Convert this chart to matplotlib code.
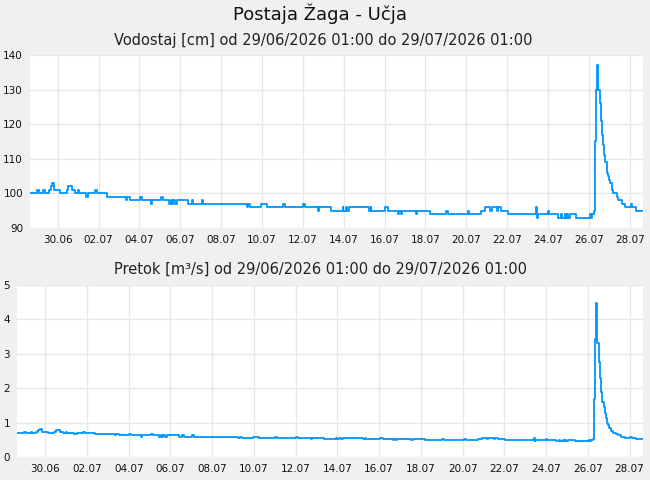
import datetime as dt
import matplotlib
matplotlib.use("Agg")
import matplotlib.pyplot as plt

# ---- data ----
start = dt.datetime(2026, 6, 29, 1, 0)
end = dt.datetime(2026, 7, 29, 1, 0)

# change points (hours after start)
hours = [0, 7.9, 10.9, 15.6, 17.6, 22.3, 24.3, 26.2, 28.5, 35.2,
         43.1, 45.0, 49.0, 52.9, 56.7, 57.9, 65.8, 68.5, 76.3, 78.3,
         90.1, 112.8, 114.3, 117.5, 129.2, 131.2, 142.1, 143.3, 153.9, 155.9,
         163.3, 165.3, 166.4, 168.3, 170.3, 172.3, 185.9, 189.9, 191.8, 201.7,
         203.5, 254.5, 256.4, 258.4, 271.3, 278.0, 296.8, 299.5, 321.0, 323.0,
         338.6, 339.8, 353.2, 367.3, 368.0, 370.8, 372.7, 374.7, 398.5, 400.2,
         400.9, 417.0, 420.9, 431.9, 433.4, 435.4, 436.9, 453.4, 454.9, 469.8,
         488.6, 491.3, 514.1, 516.0, 529.7, 534.4, 540.3, 542.3, 548.2, 550.1,
         553.2, 561.8, 594.7, 595.5, 596.3, 608.8, 610.0, 620.5, 623.7, 624.9,
         628.4, 629.6, 630.8, 631.9, 634.3, 641.3, 657.8, 659.0, 660.1, 662.8,
         663.6, 664.8, 666.0, 666.8, 667.5, 669.5, 671.1, 672.2, 673.4, 674.6,
         675.8, 677.4, 678.6, 680.1, 681.3, 683.3, 685.1, 689.1, 691.0, 695.0,
         698.9, 705.6, 707.1, 711.8, 720.0]

vodostaj = [100, 101, 100, 101, 100, 101, 102, 103, 101, 100,
            101, 102, 101, 100, 101, 100, 99, 100, 101, 100,
            99, 98, 99, 98, 99, 98, 97, 98, 99, 98,
            97, 98, 97, 98, 97, 98, 97, 98, 97, 98,
            97, 96, 97, 96, 97, 96, 97, 96, 97, 96,
            95, 96, 95, 96, 95, 96, 95, 96, 95, 96,
            95, 96, 95, 94, 95, 94, 95, 94, 95, 94,
            95, 94, 95, 94, 95, 96, 95, 96, 95, 96,
            95, 94, 96, 93, 94, 95, 94, 93, 94, 93,
            94, 93, 94, 93, 94, 93, 94, 93, 94, 95,
            115, 130, 137, 135, 130, 126, 121, 117, 114, 111,
            109, 106, 105, 104, 103, 101, 100, 99, 98, 97,
            96, 97, 96, 95, 95]

pretok = [0.70, 0.74, 0.70, 0.74, 0.70, 0.74, 0.78, 0.82, 0.74, 0.70,
          0.74, 0.78, 0.74, 0.70, 0.74, 0.70, 0.67, 0.70, 0.74, 0.70,
          0.67, 0.63, 0.67, 0.63, 0.67, 0.63, 0.59, 0.63, 0.67, 0.63,
          0.59, 0.63, 0.59, 0.63, 0.59, 0.63, 0.59, 0.63, 0.59, 0.63,
          0.59, 0.55, 0.59, 0.55, 0.59, 0.55, 0.59, 0.55, 0.59, 0.55,
          0.52, 0.55, 0.52, 0.55, 0.52, 0.55, 0.52, 0.55, 0.52, 0.55,
          0.52, 0.55, 0.52, 0.50, 0.52, 0.50, 0.52, 0.50, 0.52, 0.50,
          0.52, 0.50, 0.52, 0.50, 0.52, 0.55, 0.52, 0.55, 0.52, 0.55,
          0.52, 0.50, 0.55, 0.47, 0.50, 0.52, 0.50, 0.47, 0.50, 0.47,
          0.50, 0.47, 0.50, 0.47, 0.50, 0.47, 0.50, 0.47, 0.50, 0.52,
          1.68, 3.43, 4.49, 4.00, 3.30, 2.75, 2.30, 1.90, 1.60, 1.44,
          1.29, 1.12, 1.00, 0.92, 0.85, 0.77, 0.71, 0.66, 0.63, 0.59,
          0.56, 0.58, 0.55, 0.52, 0.52]

tick_dates = ["30.06", "02.07", "04.07", "06.07", "08.07", "10.07", "12.07",
              "14.07", "16.07", "18.07", "20.07", "22.07", "24.07", "26.07", "28.07"]

title = "Postaja Žaga - Učja"
sub1 = "Vodostaj [cm] od 29/06/2026 01:00 do 29/07/2026 01:00"
sub2 = "Pretok [m³/s] od 29/06/2026 01:00 do 29/07/2026 01:00"

# ---- plotting ----
plt.rcParams['font.family'] = ['DejaVu Sans']
BG = '#f0f0f0'
LINE = '#0095ff'
GRID = '#e8e8e8'

fig = plt.figure(figsize=(6.5, 4.8), dpi=100, facecolor=BG)
times = [start + dt.timedelta(hours=h) for h in hours]
tick_pos = [dt.datetime(2026, int(t[3:]), int(t[:2]), 9, 30) for t in tick_dates]

def style(ax, ylim, yticks):
    ax.set_facecolor('white')
    for s in ax.spines.values():
        s.set_visible(False)
    ax.set_xlim(start, end)
    ax.set_ylim(*ylim)
    ax.set_yticks(yticks)
    ax.set_xticks(tick_pos)
    ax.set_xticklabels(tick_dates)
    ax.grid(True, color=GRID, linewidth=1.0)
    ax.set_axisbelow(True)
    ax.tick_params(length=0, labelsize=7.5, colors='#111111', pad=5)

ax1 = fig.add_axes([30/650, 1-228/480, 613/650, 173/480])
ax1.step(times, vodostaj, where='post', color=LINE, lw=1.3)
style(ax1, (90, 140), [90, 100, 110, 120, 130, 140])

ax2 = fig.add_axes([17/650, 1-457/480, 626/650, 172/480])
ax2.step(times, pretok, where='post', color=LINE, lw=1.3)
style(ax2, (0, 5), [0, 1, 2, 3, 4, 5])

fig.text(320/650, 1-14/480, title, ha='center', va='center', fontsize=13,
         color='#111111')
fig.text(323/650, 1-40/480, sub1, ha='center', va='center', fontsize=10.5,
         color='#222222')
fig.text(321/650, 1-269/480, sub2, ha='center', va='center', fontsize=10.5,
         color='#222222')

fig.savefig('out.png', dpi=100, facecolor=BG)
